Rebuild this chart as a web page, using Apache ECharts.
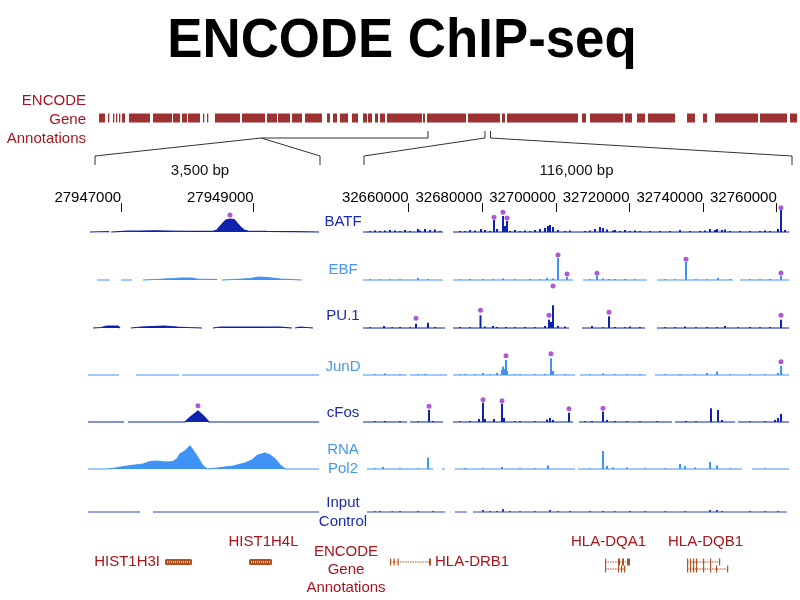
<!DOCTYPE html>
<html><head><meta charset="utf-8">
<script src="https://cdn.jsdelivr.net/npm/echarts@6/dist/echarts.min.js"></script>
<style>html,body{margin:0;padding:0;background:#fff}#c{width:800px;height:600px}</style>
</head><body><div id="c"></div>
<script>
// ---------------- DATA ----------------
const trackNames = ['BATF', 'EBF', 'PU.1', 'JunD', 'cFos', 'RNA\nPol2', 'Input\nControl'];
const trackDark = [true, false, true, false, true, false, true];
const leftRange = [27946500, 27950000];
const rightRange = [32647600, 32763600];
const leftTicks = [27947000, 27949000];
const rightTicks = [32660000, 32680000, 32700000, 32720000, 32740000, 32760000];
const leftSpanLabel = '3,500 bp';
const rightSpanLabel = '116,000 bp';

// ENCODE gene annotation overview bar (kb on chr6)
const annotRange = [24500, 39200];
const annotBlocks = [[24542,24668],[24731,24752],[24836,24857],[24899,24920],[24962,24983],[25025,25088],[25172,25613],[25676,26075],[26096,26243],[26285,26390],[26411,26663],[26726,26747],[26810,26831],[26978,27503],[27545,28028],[28070,28280],[28301,28553],[28595,28805],[28868,29225],[29330,29393],[29456,29540],[29603,29771],[29855,29981],[30086,30170],[30191,30275],[30338,30401],[30443,30548],[30590,31325],[31346,31388],[31430,32249],[32291,32963],[33005,33068],[33110,34601],[34685,34769],[34853,35546],[35588,35735],[35840,36008],[36071,36638],[36890,37058],[37226,37310],[37478,38381],[38423,38990],[39053,39200]];
const leftRegionKb = 27948;
const leftExtentKb = 31450;
const rightRegionKb = [32648, 32764];

// Left panel signal profiles [position, signal]; null = no data
const batfL = [[27946530,0],[27946800,0.5],[27946820,0],null,[27946850,0],[27947100,0.8],[27947300,1],[27947500,1.2],[27947700,1],[27948000,0.6],[27948386,0.6],[27948446,2],[27948491,5.5],[27948537,9],[27948582,12],[27948642,13],[27948702,12.5],[27948748,9],[27948793,5.5],[27948853,2],[27948914,0.8],[27949200,0.6],[27949600,0.4],[27949985,0]];
const ebfL = [[27946636,0],[27946830,0],null,[27947000,0],[27947164,0],null,[27947330,0],[27947500,0.5],[27947800,1.5],[27947900,2],[27948050,2],[27948150,0.8],[27948446,0.5],null,[27948520,0],[27948700,0.5],[27948950,1.5],[27949080,3],[27949200,2.5],[27949400,1],[27949728,0]];
const pu1L = [[27946575,0],[27946700,0.5],[27946787,2],[27946950,2],[27946983,0],null,[27947149,0],[27947300,1],[27947450,1.5],[27947650,2],[27947850,1],[27948000,0.5],[27948220,0],null,[27948386,0],[27948500,1],[27948800,1],[27949100,1],[27949400,0.8],[27949577,0],null,[27949623,0],[27949700,1],[27949895,0]];
const jundL = [[27946500,0],[27946968,0],null,[27947224,0],[27947873,0],null,[27947918,0],[27949985,0]];
const cfosL = [[27946500,0],[27947043,0],null,[27947103,0],[27947963,0],[27948054,5.5],[27948159,11],[27948250,5.5],[27948325,0],[27949985,0]];
const rnaL = [[27946500,0],[27946787,0],[27946907,1],[27947088,3],[27947209,4],[27947330,5],[27947435,7.5],[27947541,8],[27947662,7],[27947782,7.5],[27947843,10],[27947888,15],[27947963,18],[27948039,23],[27948084,19],[27948144,13],[27948190,8],[27948235,3],[27948295,0],[27948446,1],[27948687,3],[27948868,6],[27948974,9],[27949065,14],[27949170,16],[27949246,14],[27949321,10],[27949397,4],[27949472,0],[27949985,0]];
const inputL = [[27946500,0],[27947284,0],null,[27947481,0],[27949985,0]];
const leftProfiles = [batfL, ebfL, pu1L, jundL, cfosL, rnaL, inputL];

// Right panel: covered segments and peak heights
const batfSegR = [[32647600,32669330],[32672050,32763330]];
const ebfSegR = [[32647600,32669330],[32672050,32704650],[32707370,32724750],[32727470,32748120],[32750020,32763330]];
const pu1SegR = [[32647600,32669880],[32672050,32703560],[32707090,32724210],[32727470,32763330]];
const jundSegR = [[32647600,32659550],[32660370,32670420],[32672050,32705190],[32706550,32724480],[32726930,32763330]];
const cfosSegR = [[32647600,32659550],[32660370,32669330],[32672050,32704650],[32706280,32731540],[32732360,32748660],[32749470,32763330]];
const rnaSegR = [[32648690,32666620],[32669060,32669880],[32672590,32705190],[32706010,32750560],[32753280,32763330]];
const inputSegR = [[32648690,32669880],[32672590,32675850],[32677480,32762780]];
const rightSegments = [batfSegR, ebfSegR, pu1SegR, jundSegR, cfosSegR, rnaSegR, inputSegR];

const batfPk = [[32649500,1],[32650860,1.5],[32652220,1],[32653580,1.5],[32654940,2],[32656290,1.5],[32657650,1],[32659010,2],[32660370,1],[32662540,3],[32663090,1.5],[32664440,3],[32665800,2],[32667160,2.5],[32668530,1],[32673950,1],[32675310,1],[32676670,2],[32678030,1.5],[32679660,3],[32680740,2],[32682100,1],[32683190,12],[32684000,3],[32685630,16],[32686180,6],[32686720,11],[32687530,1],[32688890,2],[32690250,1],[32691610,1.5],[32692970,1],[32694330,2],[32695680,3],[32697040,4],[32697860,6],[32698400,7],[32699220,5],[32700570,2],[32702480,1],[32703830,1.5],[32707910,1],[32709270,1.5],[32710630,3],[32711980,5],[32712800,4],[32713890,2.5],[32715520,1.5],[32716060,2],[32717420,1],[32718780,2],[32720130,1],[32721490,1.5],[32722850,1],[32725570,1],[32728280,1],[32731000,1],[32733720,2],[32736430,1],[32739150,1],[32740510,1.5],[32741870,3],[32743220,2],[32743770,3],[32745130,2],[32745940,2.5],[32747300,1],[32750020,1],[32752730,1],[32755450,1],[32756810,1.5],[32758170,1],[32760340,3],[32761150,22],[32762240,2]];
const ebfPk = [[32649500,0.8],[32652220,0.8],[32654940,0.8],[32657650,0.8],[32662540,2],[32665260,1],[32673950,0.8],[32676670,1],[32680200,1],[32682920,0.8],[32685630,1.5],[32688890,0.8],[32692970,1],[32695680,0.8],[32697590,2],[32699220,1.5],[32700570,22],[32703020,3],[32709270,0.8],[32711170,4],[32712800,1.5],[32714430,1],[32716060,1],[32718780,1],[32721490,0.8],[32729640,0.8],[32732360,0.8],[32735350,18],[32738060,0.8],[32741050,0.8],[32744040,2],[32747300,1],[32752730,0.8],[32755450,0.8],[32758170,1],[32761150,4]];
const pu1Pk = [[32649500,0.8],[32653300,2],[32655600,0.8],[32657650,1],[32660370,0.8],[32662000,4.3],[32665260,5.3],[32667160,1],[32673950,1],[32676670,0.8],[32679520,12.7],[32680740,1.5],[32682920,2],[32684000,1],[32686450,1],[32688890,0.8],[32691610,1],[32694330,0.8],[32697040,2],[32698130,8.3],[32698670,6],[32699220,22.7],[32700570,2],[32702480,1.5],[32709810,2],[32712800,0.8],[32714430,11.7],[32716060,1],[32718780,0.8],[32720130,1.5],[32722850,1],[32729640,0.8],[32732360,0.8],[32735080,1.5],[32738060,0.8],[32741050,1],[32743770,0.8],[32745940,2],[32749470,0.8],[32752730,1],[32755450,0.8],[32758170,1],[32761150,8.3]];
const jundPk = [[32650860,0.8],[32653580,1.5],[32657650,1],[32662540,0.8],[32664440,1],[32673950,0.8],[32675310,1],[32678030,0.8],[32680200,2],[32682100,0.8],[32684000,2],[32685360,5],[32685630,8.3],[32685900,6],[32686450,15],[32686720,4],[32688890,0.8],[32690250,1],[32694330,0.8],[32697040,1],[32698670,16.7],[32699220,4],[32702480,1],[32709270,0.8],[32712800,1.5],[32716060,0.8],[32719320,0.8],[32722850,1],[32729640,0.8],[32733720,0.8],[32737790,0.8],[32741050,2],[32743770,3.5],[32747300,0.8],[32752730,1],[32756810,0.8],[32760340,2],[32761150,9]];
const cfosPk = [[32650860,0.8],[32653580,1],[32657650,1],[32662540,0.8],[32665530,12],[32666620,1],[32673950,0.8],[32676670,1],[32679110,3],[32680200,19.3],[32680740,3],[32683190,3],[32685360,18.3],[32685900,4],[32688890,0.8],[32690250,1],[32694330,0.8],[32697590,2.5],[32698400,4],[32699220,2],[32703560,9.3],[32707910,0.8],[32709810,1],[32712800,10.3],[32713890,2],[32716060,1],[32719320,0.8],[32722850,0.8],[32727470,0.8],[32735350,1],[32738060,0.8],[32742140,13.7],[32744040,12],[32745130,2],[32752730,0.8],[32756810,0.8],[32759520,2],[32760340,4],[32761150,8]];
const rnaPk = [[32650860,0.8],[32653030,2],[32657650,1],[32662540,0.8],[32665260,11.3],[32675310,1],[32680200,0.8],[32685360,2],[32690250,0.8],[32694330,0.8],[32697860,3.5],[32709270,0.8],[32712800,18],[32713890,3],[32715520,1.5],[32719320,1.5],[32724210,0.8],[32729640,0.8],[32733720,5],[32735080,3],[32737790,1.5],[32741870,7],[32743770,3.5],[32747300,0.8],[32756810,0.8]];
const inputPk = [[32650860,0.8],[32652220,1],[32655600,0.8],[32657650,1],[32662540,0.8],[32666620,1],[32680200,2],[32682100,1],[32684000,1],[32685630,3],[32687530,1],[32690250,0.8],[32694330,0.8],[32698400,2],[32700570,0.8],[32703830,1],[32709270,0.8],[32712800,1],[32716060,0.8],[32720130,1],[32724210,0.8],[32729640,0.8],[32735080,0.8],[32741870,2],[32743770,2],[32745130,1],[32752730,0.8],[32756810,0.8],[32760340,0.8]];
const rightPeaks = [batfPk, ebfPk, pu1Pk, jundPk, cfosPk, rnaPk, inputPk];

// Called peaks (purple dots): [position, signal level of marker]
const dotsL = [[[27948642,17]], [], [], [], [[27948159,16.3]], [], []];
const dotsR = [
  [[32683190,14.7],[32685630,19.7],[32686720,14],[32761150,24.3]],
  [[32700570,25],[32699220,-6],[32703020,6],[32711170,6.7],[32735350,20.7],[32761150,7]],
  [[32662000,9.7],[32679520,17.7],[32698130,12.7],[32714430,15.7],[32761150,12.7]],
  [[32686450,19.3],[32698670,21.3],[32761150,13.3]],
  [[32665530,15.7],[32680200,22.3],[32685360,21.3],[32703560,13.3],[32712800,13.7]],
  [], []
];

// Gene models (transcripts)
const geneNames = ['HIST1H3I', 'HIST1H4L', 'HLA-DRB1', 'HLA-DQA1', 'HLA-DQB1'];
const genePanel = [0, 0, 1, 1, 1];
const geneLabelSide = ['left', 'top', 'right', 'top', 'top'];
const txGene = [0, 1, 2, 3, 3, 4, 4];
const txRow = [0, 0, 0, 0, 1, 0, 1];
const txStart = [27947662, 27948929, 32654940, 32713340, 32713340, 32735620, 32735620];
const txEnd = [27948069, 27949276, 32666070, 32720130, 32718780, 32744580, 32746760];
const txExons = [
  [[27947662,27948069]],
  [[27948929,27949276]],
  [[32654940,32655210],[32655900,32656100],[32657000,32657250],[32665530,32666070]],
  [[32713340,32713550],[32716870,32717420],[32717960,32718510],[32719320,32720130]],
  [[32713340,32713550],[32716870,32717150],[32717690,32717960],[32718510,32718780]],
  [[32735620,32735890],[32736430,32736650],[32737250,32737450],[32738060,32738250],[32739960,32740150],[32741870,32742050],[32744310,32744580]],
  [[32735620,32735890],[32736430,32736650],[32737250,32737450],[32738060,32738250],[32739960,32740150],[32741870,32742050],[32743500,32743700],[32746500,32746760]]
];

// ---------------- LAYOUT / STYLE ----------------
const FONT = 'Liberation Sans, Arial, Helvetica, sans-serif';
const DARK = '#0f22ae', LIGHT = '#3f93f5', INPUTC = '#3045bd';
const LBL_DARK = '#1a2bb0', LBL_LIGHT = '#4596f0';
const RED = '#a8141c', BAR_RED = '#9e3131', GENE_C = '#b0501e';
const PURPLE = '#9a2fcc';
const baselines = [232, 280, 328, 375, 422, 469, 512];
const labelDy = [-10, -10, -12, -8, -9, -9.5, 0.5];
const PANEL_L = [88, 363], PANEL_W = [232, 427];
const ranges = [leftRange, rightRange];

const grids = [], xAxes = [], yAxes = [], series = [];
function addGrid(g, x, y) {
  grids.push(g); const gi = grids.length - 1;
  xAxes.push(Object.assign({gridIndex: gi}, x));
  yAxes.push(Object.assign({gridIndex: gi}, y));
  return gi;
}
const hiddenAxis = {show: false};

// 0: annotation bar
const gA = addGrid({left: 97, width: 700, top: 113.5, height: 9},
  Object.assign({type: 'value', min: annotRange[0], max: annotRange[1]}, hiddenAxis),
  Object.assign({type: 'value', min: 0, max: 1}, hiddenAxis));
series.push({
  type: 'custom', xAxisIndex: gA, yAxisIndex: gA, data: annotBlocks, silent: true,
  renderItem: (params, api) => {
    const p0 = api.coord([api.value(0), 1]);
    const p1 = api.coord([api.value(1), 0]);
    return {type: 'rect', shape: {x: p0[0], y: p0[1], width: Math.max(1.3, p1[0] - p0[0]), height: p1[1] - p0[1]},
      style: {fill: BAR_RED}};
  }
});

// tick axes for both panels
[leftTicks, rightTicks].forEach((ticks, p) => {
  const gi = addGrid({left: PANEL_L[p], width: PANEL_W[p], top: 203, height: 9},
    {type: 'value', position: 'top', min: ranges[p][0], max: ranges[p][1],
     axisLine: {show: false, onZero: false}, splitLine: {show: false},
     axisTick: {show: true, inside: true, length: 9, customValues: ticks, lineStyle: {color: '#111', width: 1}},
     axisLabel: {show: true, customValues: ticks, align: 'right', margin: -2,
       formatter: v => String(v), fontFamily: FONT, fontSize: 15, color: '#000'}},
    Object.assign({type: 'value', min: 0, max: 1}, hiddenAxis));
  series.push({type: 'scatter', xAxisIndex: gi, yAxisIndex: gi, data: []});
});

// signal tracks
trackNames.forEach((name, t) => {
  const col = t === 6 ? INPUTC : (trackDark[t] ? DARK : LIGHT);
  for (let p = 0; p < 2; p++) {
    const gi = addGrid({left: PANEL_L[p], width: PANEL_W[p], top: baselines[t] - 30, height: 40},
      Object.assign({type: 'value', min: ranges[p][0], max: ranges[p][1]}, hiddenAxis),
      Object.assign({type: 'value', min: -10, max: 30}, hiddenAxis));
    if (p === 0) {
      const d = leftProfiles[t].map(pt => pt === null ? [null, null] : pt);
      series.push({type: 'line', xAxisIndex: gi, yAxisIndex: gi, data: d, showSymbol: false, silent: true,
        lineStyle: {color: col, width: 1.2}, areaStyle: {color: col, opacity: 1}, connectNulls: false});
    } else {
      const d = [];
      rightSegments[t].forEach(s => { d.push([s[0], 0], [s[1], 0], [null, null]); });
      series.push({type: 'line', xAxisIndex: gi, yAxisIndex: gi, data: d, showSymbol: false, silent: true,
        lineStyle: {color: col, width: 1.1}, connectNulls: false});
      series.push({type: 'bar', xAxisIndex: gi, yAxisIndex: gi, data: rightPeaks[t], barWidth: 2, silent: true,
        itemStyle: {color: col}});
    }
    const dots = (p === 0 ? dotsL : dotsR)[t];
    if (dots.length) series.push({type: 'scatter', xAxisIndex: gi, yAxisIndex: gi, data: dots, symbolSize: 5,
      silent: true, itemStyle: {color: PURPLE}});
  }
});

// gene models
const geneGrids = [];
for (let p = 0; p < 2; p++) {
  geneGrids.push(addGrid({left: PANEL_L[p], width: PANEL_W[p], top: 555, height: 20},
    Object.assign({type: 'value', min: ranges[p][0], max: ranges[p][1]}, hiddenAxis),
    Object.assign({type: 'value', min: 0, max: 20, inverse: true}, hiddenAxis)));
}
const labelDx = [0, 3, 0, -9, 2];
for (let p = 0; p < 2; p++) {
  const idx = txGene.map((g, i) => i).filter(i => genePanel[txGene[i]] === p);
  series.push({
    type: 'custom', xAxisIndex: geneGrids[p], yAxisIndex: geneGrids[p], silent: true,
    data: idx.map(i => [txStart[i], txEnd[i], i]),
    renderItem: (params, api) => {
      const i = api.value(2);
      const g = txGene[i];
      const yRow = txRow[i] === 0 ? 7 : 14;
      const a = api.coord([txStart[i], yRow]);
      const b = api.coord([txEnd[i], yRow]);
      const children = [];
      const single = txExons[i].length === 1;
      if (!single) children.push({type: 'line', shape: {x1: a[0], y1: a[1], x2: b[0], y2: b[1]},
        style: {stroke: GENE_C, lineWidth: 1, lineDash: [1.5, 1]}});
      txExons[i].forEach(e => {
        const s = api.coord([e[0], yRow])[0], en = api.coord([e[1], yRow])[0];
        const h = single ? 6 : 7;
        children.push({type: 'rect', shape: {x: s, y: a[1] - h / 2, width: Math.max(1.2, en - s), height: h, r: single ? 1.5 : 0},
          style: {fill: GENE_C}});
      });
      if (single) children.push({type: 'line', shape: {x1: a[0] + 2, y1: a[1], x2: b[0] - 2, y2: b[1]},
        style: {stroke: '#e7b394', lineWidth: 2, lineDash: [1, 1]}});
      const firstTx = txGene.indexOf(g) === i;
      if (firstTx) {
        const side = geneLabelSide[g];
        let tx, ty, align;
        if (side === 'left') { tx = a[0] - 5; ty = a[1]; align = 'right'; }
        else if (side === 'right') { tx = b[0] + 4; ty = a[1]; align = 'left'; }
        else { tx = (a[0] + b[0]) / 2 + labelDx[g]; ty = a[1] - 20; align = 'center'; }
        children.push({type: 'text', x: tx, y: ty, style: {text: geneNames[g], fill: RED, font: '15px ' + FONT,
          textAlign: align, textVerticalAlign: 'middle'}});
      }
      return {type: 'group', children};
    }
  });
}

// ---------------- TEXT ----------------
const graphics = [
  {type: 'text', x: 402, y: 41.5, scaleX: 0.96, scaleY: 1, style: {text: 'ENCODE ChIP-seq', fill: '#000',
    font: 'bold 55px ' + FONT, textAlign: 'center', textVerticalAlign: 'middle'}},
  {type: 'text', x: 86, y: 120, style: {text: 'ENCODE\nGene\nAnnotations', fill: RED, font: '15px ' + FONT,
    lineHeight: 19, textAlign: 'right', textVerticalAlign: 'middle'}},
  {type: 'text', x: 346, y: 570, style: {text: 'ENCODE\nGene\nAnnotations', fill: RED, font: '15px ' + FONT,
    lineHeight: 18, textAlign: 'center', textVerticalAlign: 'middle'}},
  {type: 'text', x: PANEL_L[0] + PANEL_W[0] / 2 - 4, y: 171, style: {text: leftSpanLabel, fill: '#111', font: '15px ' + FONT,
    textAlign: 'center', textVerticalAlign: 'middle'}},
  {type: 'text', x: PANEL_L[1] + PANEL_W[1] / 2, y: 171, style: {text: rightSpanLabel, fill: '#111', font: '15px ' + FONT,
    textAlign: 'center', textVerticalAlign: 'middle'}}
];
trackNames.forEach((n, t) => {
  graphics.push({type: 'text', x: 343, y: baselines[t] + labelDy[t], style: {text: n,
    fill: trackDark[t] ? LBL_DARK : LBL_LIGHT, font: '15px ' + FONT, lineHeight: 19,
    textAlign: 'center', textVerticalAlign: 'middle'}});
});

const chart = echarts.init(document.getElementById('c'), null, {renderer: 'canvas'});
chart.setOption({animation: false, backgroundColor: '#fff', grid: grids, xAxis: xAxes, yAxis: yAxes, series, graphic: graphics});

// zoom connector lines derived from the annotation axis and panel extents
const ax = v => chart.convertToPixel({xAxisIndex: gA}, v);
const lx = ax(leftRegionKb), ex = ax(leftExtentKb), r0 = ax(rightRegionKb[0]), r1 = ax(rightRegionKb[1]);
const yH = 138, yTop = 131, yB1 = 156, yB2 = 165;
const L0 = PANEL_L[0] + 7, L1 = PANEL_L[0] + PANEL_W[0], R0 = PANEL_L[1] + 1, R1 = PANEL_L[1] + PANEL_W[1] + 2;
const ls = {stroke: '#333', lineWidth: 1, fill: null};
const conn = [
  {type: 'polyline', shape: {points: [[L0, yB2], [L0, yB1], [lx, yH], [L1, yB1], [L1, yB2]]}, style: ls},
  {type: 'polyline', shape: {points: [[lx, yH], [ex, yH], [ex, yTop]]}, style: ls},
  {type: 'polyline', shape: {points: [[R0, yB2], [R0, yB1], [r0, yH], [r0, yTop]]}, style: ls},
  {type: 'polyline', shape: {points: [[r1, yTop], [r1, yH], [R1, yB1], [R1, yB2]]}, style: ls}
];
chart.setOption({graphic: graphics.concat(conn)});
</script></body></html>
